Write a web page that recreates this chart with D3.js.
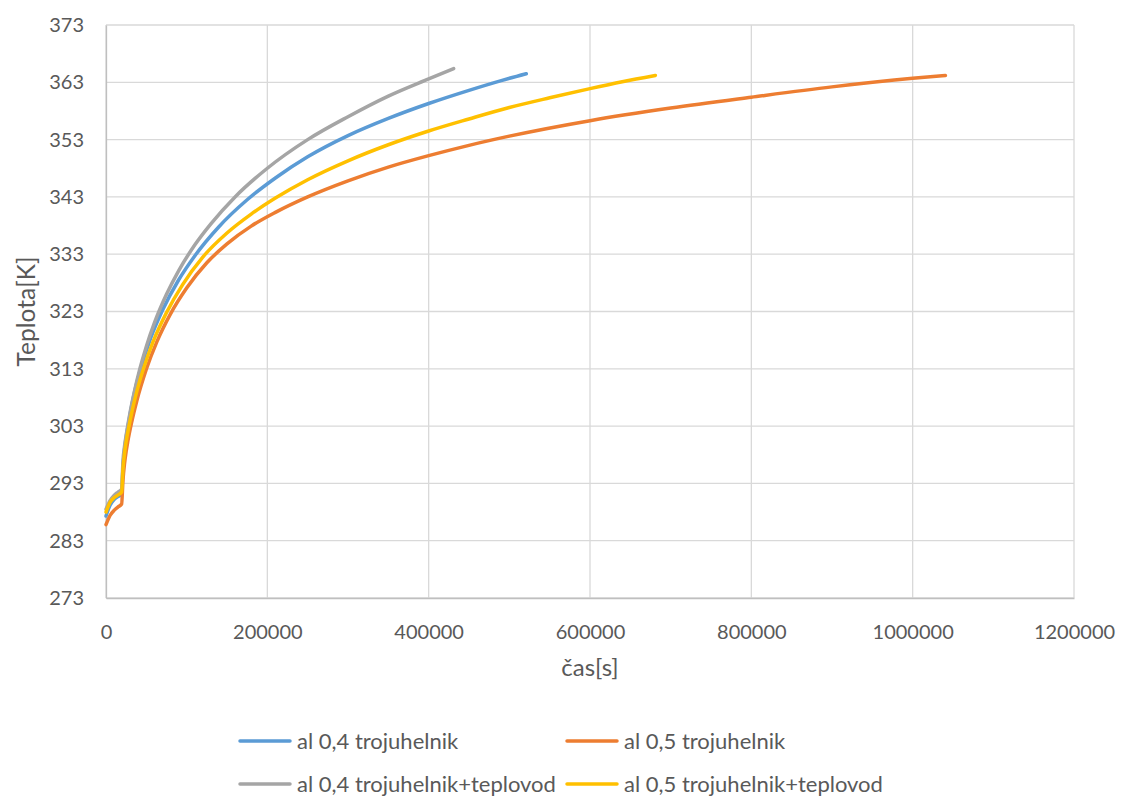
<!DOCTYPE html>
<html>
<head>
<meta charset="utf-8">
<script src="https://cdn.jsdelivr.net/npm/d3@7/dist/d3.min.js"></script>
<style>
  html, body { margin: 0; padding: 0; background: #fff; }
  svg { display: block; font-family: Lato, "Liberation Sans", sans-serif; }
</style>
</head>
<body>
<svg id="chart" width="1121" height="796"></svg>
<script>
// Axis ticks
const xTicks = [0, 200000, 400000, 600000, 800000, 1000000, 1200000];
const yTicks = [273, 283, 293, 303, 313, 323, 333, 343, 353, 363, 373];

// Series names (legend order)
const seriesNames = [
  "al 0,4 trojuhelnik",
  "al 0,5 trojuhelnik",
  "al 0,4 trojuhelnik+teplovod",
  "al 0,5 trojuhelnik+teplovod"
];
const seriesColors = ["#5B9BD5", "#ED7D31", "#A5A5A5", "#FFC000"];

// al 0,4 trojuhelnik
const timeA04 = [0, 5000, 10000, 15000, 19400, 21000, 23000, 25000, 27000, 30000, 35000, 43000, 55000, 70000, 90000, 110000, 140000, 175000, 210000, 250000, 300000, 350000, 400000, 450000, 490000, 521000];
const tempA04 = [287.3, 289.2, 290.2, 290.7, 291.1, 295.8, 298.9, 301.1, 302.8, 305.2, 308.7, 313.0, 318.2, 323.2, 328.5, 332.7, 337.8, 342.5, 346.3, 350.0, 353.7, 356.7, 359.3, 361.6, 363.3, 364.5];

// al 0,5 trojuhelnik
const timeA05 = [0, 5000, 10000, 15000, 19400, 21000, 23000, 25000, 27000, 32000, 38000, 50200, 63000, 80000, 100000, 125000, 150000, 180000, 210000, 250000, 300000, 350000, 400000, 450000, 500000, 600000, 700000, 800000, 900000, 1000000, 1040600];
const tempA05 = [285.8, 287.4, 288.3, 288.9, 289.4, 293.5, 296.5, 298.6, 300.3, 303.8, 307.3, 313.0, 317.7, 322.6, 327.1, 331.5, 334.8, 337.9, 340.3, 343.0, 345.8, 348.2, 350.2, 352.0, 353.6, 356.3, 358.5, 360.4, 362.2, 363.7, 364.2];

// al 0,4 trojuhelnik+teplovod
const timeA04T = [0, 5000, 10000, 15000, 19400, 21000, 23000, 25000, 27000, 30000, 35000, 42000, 50000, 60000, 75000, 90000, 110000, 130000, 160000, 200000, 250000, 300000, 350000, 400000, 431000];
const tempA04T = [288.5, 290.0, 290.9, 291.5, 292.0, 296.8, 299.5, 301.4, 303.1, 305.5, 308.9, 313.0, 316.9, 321.0, 326.0, 330.1, 334.6, 338.3, 343.0, 348.0, 353.0, 357.0, 360.6, 363.6, 365.4];

// al 0,5 trojuhelnik+teplovod
const timeA05T = [0, 5000, 10000, 15000, 19400, 21000, 23000, 25000, 28500, 32000, 37000, 46400, 58000, 75000, 95000, 120000, 150000, 180000, 210000, 250000, 300000, 350000, 400000, 450000, 500000, 550000, 600000, 640000, 681000];
const tempA05T = [288.0, 289.7, 290.5, 291.0, 291.5, 295.5, 298.3, 300.3, 303.0, 305.4, 308.4, 313.0, 317.6, 322.8, 327.7, 332.5, 336.7, 340.0, 342.8, 346.0, 349.3, 352.1, 354.5, 356.6, 358.6, 360.3, 361.9, 363.1, 364.2];

const seriesTimes = [timeA04, timeA05, timeA04T, timeA05T];
const seriesTemps = [tempA04, tempA05, tempA04T, tempA05T];

const svg = d3.select("#chart");
const plot = { left: 106, right: 1074, top: 25, bottom: 598 };

const x = d3.scaleLinear().domain([0, 1200000]).range([plot.left, plot.right]);
const y = d3.scaleLinear().domain([273, 373]).range([plot.bottom, plot.top]);

const textColor = "#595959";
const gridColor = "#D9D9D9";

// gridlines
svg.append("g")
  .selectAll("line")
  .data(yTicks)
  .join("line")
  .attr("x1", plot.left).attr("x2", plot.right)
  .attr("y1", d => y(d)).attr("y2", d => y(d))
  .attr("stroke", gridColor).attr("stroke-width", 1.3);

svg.append("g")
  .selectAll("line")
  .data(xTicks)
  .join("line")
  .attr("x1", d => x(d)).attr("x2", d => x(d))
  .attr("y1", plot.top).attr("y2", plot.bottom)
  .attr("stroke", gridColor).attr("stroke-width", 1.3);

// axes
const xAxis = d3.axisBottom(x).tickValues(xTicks).tickSize(0).tickPadding(27)
  .tickFormat(d3.format("d"));
const yAxis = d3.axisLeft(y).tickValues(yTicks).tickSize(0).tickPadding(22)
  .tickFormat(d3.format("d"));

const gx = svg.append("g").attr("transform", `translate(0,${plot.bottom})`).call(xAxis);
const gy = svg.append("g").attr("transform", `translate(${plot.left},0)`).call(yAxis);
[gx, gy].forEach(g => {
  g.select(".domain").attr("stroke", "#BFBFBF").attr("stroke-width", 1.3);
  g.selectAll("text").attr("fill", textColor).style("font-size", "20px")
    .style("font-family", "Lato, 'Liberation Sans', sans-serif");
});

// axis titles
svg.append("text")
  .attr("x", 590).attr("y", 676)
  .attr("text-anchor", "middle")
  .attr("fill", textColor).style("font-size", "24px")
  .text("čas[s]");

svg.append("text")
  .attr("transform", `translate(35,${(plot.top + plot.bottom) / 2}) rotate(-90)`)
  .attr("text-anchor", "middle")
  .attr("fill", textColor).style("font-size", "24.5px")
  .text("Teplota[K]");

// series lines (series order: later ones drawn on top)
const line = d3.line()
  .x(d => x(d[0]))
  .y(d => y(d[1]))
  .curve(d3.curveMonotoneX);

svg.append("g")
  .selectAll("path")
  .data(seriesNames.map((n, i) => i))
  .join("path")
  .attr("d", i => line(d3.zip(seriesTimes[i], seriesTemps[i])))
  .attr("fill", "none")
  .attr("stroke", i => seriesColors[i])
  .attr("stroke-width", 3.5)
  .attr("stroke-linecap", "round")
  .attr("stroke-linejoin", "round");

// legend: 2 x 2 grid
const legendPos = [[240, 741], [567, 741], [240, 784], [567, 784]];
const legend = svg.append("g")
  .selectAll("g")
  .data(seriesNames)
  .join("g")
  .attr("transform", (d, i) => `translate(${legendPos[i][0]},${legendPos[i][1]})`);

legend.append("line")
  .attr("x1", 0).attr("x2", 50)
  .attr("y1", 0).attr("y2", 0)
  .attr("stroke", (d, i) => seriesColors[i])
  .attr("stroke-width", 3.5)
  .attr("stroke-linecap", "round");

legend.append("text")
  .attr("x", 57).attr("y", 0).attr("dy", "0.35em")
  .attr("fill", textColor).style("font-size", "22px")
  .text(d => d);
</script>
</body>
</html>
